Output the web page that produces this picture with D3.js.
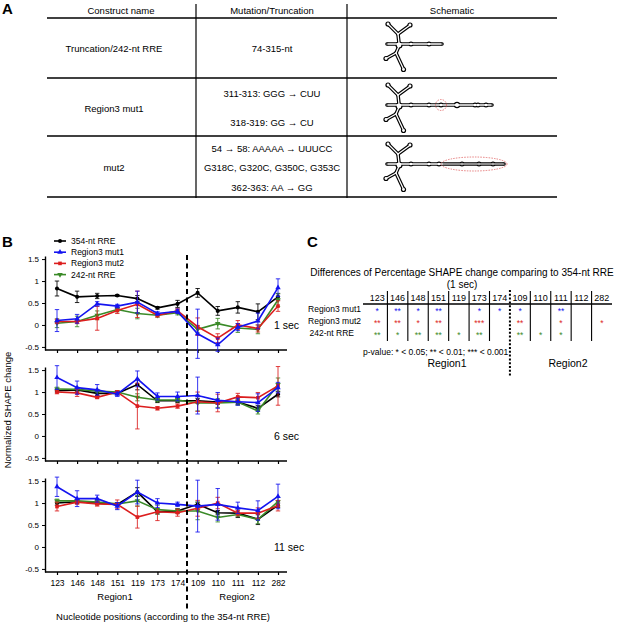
<!DOCTYPE html>
<html>
<head>
<meta charset="utf-8">
<script src="https://cdn.jsdelivr.net/npm/d3@7"></script>
<style>
body { margin: 0; background: #fff; }
svg { font-family: "Liberation Sans", Arial, sans-serif; }
</style>
</head>
<body>
<svg id="fig" width="617" height="624"></svg>
<script>
// ---- data ----
var constructNames = ["Truncation/242-nt RRE", "Region3 mut1", "mut2"];
var mutationLines = [
	["74-315-nt"],
	["311-313: GGG \u2192 CUU", "318-319: GG \u2192 CU"],
	["54 \u2192 58: AAAAA \u2192 UUUCC", "G318C, G320C, G350C, G353C", "362-363: AA \u2192 GG"]
];
// bulge offsets along the long stem of each schematic, and stem length
var stemLengths = [42, 92, 104];
var bulgeOffsets = [[12, 30], [12, 30, 42, 58, 76, 79, 87], [12, 30, 40, 63, 80, 94]];

var positions = ["123", "146", "148", "151", "119", "173", "174", "109", "110", "111", "112", "282"];
var seriesNames = ["354-nt RRE", "Region3 mut1", "Region3 mut2", "242-nt RRE"];
var timeLabels = ["1 sec", "6 sec", "11 sec"];

// 1 sec
var wt1 = [0.83, 0.64, 0.66, 0.67, 0.60, 0.39, 0.48, 0.73, 0.32, 0.40, 0.30, 0.64];
var wt1Err = [0.17, 0.13, 0.06, 0.02, 0.07, 0.03, 0.08, 0.10, 0.10, 0.13, 0.18, 0.07];
var mutA1 = [0.10, 0.14, 0.48, 0.43, 0.52, 0.26, 0.31, -0.20, -0.45, -0.05, 0.09, 0.85];
var mutA1Err = [0.25, 0.10, 0.05, 0.04, 0.25, 0.04, 0.05, 0.56, 0.15, 0.08, 0.18, 0.20];
var mutB1 = [0.08, 0.08, 0.15, 0.33, 0.47, 0.22, 0.32, -0.04, -0.30, 0.00, -0.08, 0.43];
var mutB1Err = [0.05, 0.05, 0.27, 0.07, 0.30, 0.04, 0.05, 0.20, 0.10, 0.10, 0.08, 0.12];
var trunc1 = [0.04, 0.08, 0.22, 0.35, 0.26, 0.22, 0.28, -0.10, 0.03, -0.07, -0.10, 0.57];
var trunc1Err = [0.10, 0.12, 0.10, 0.05, 0.12, 0.04, 0.05, 0.08, 0.12, 0.10, 0.10, 0.15];
// 6 sec
var wt6 = [1.03, 1.05, 0.97, 0.97, 1.17, 0.80, 0.80, 0.80, 0.77, 0.77, 0.63, 0.95];
var wt6Err = [0.03, 0.03, 0.05, 0.03, 0.12, 0.04, 0.04, 0.05, 0.05, 0.05, 0.06, 0.06];
var mutA6 = [1.33, 1.10, 1.05, 0.95, 1.30, 0.90, 0.90, 0.92, 0.81, 0.78, 0.76, 1.10];
var mutA6Err = [0.27, 0.15, 0.12, 0.05, 0.18, 0.08, 0.10, 0.42, 0.18, 0.08, 0.20, 0.12];
var mutB6 = [1.00, 0.98, 0.88, 1.00, 0.68, 0.63, 0.68, 0.78, 0.75, 0.89, 0.87, 1.14];
var mutB6Err = [0.04, 0.08, 0.03, 0.03, 0.52, 0.04, 0.05, 0.22, 0.20, 0.08, 0.12, 0.44];
var trunc6 = [1.07, 1.06, 1.02, 1.00, 0.88, 0.82, 0.82, 0.75, 0.75, 0.77, 0.57, 1.17];
var trunc6Err = [0.04, 0.05, 0.04, 0.03, 0.08, 0.04, 0.04, 0.18, 0.10, 0.07, 0.07, 0.15];
// 11 sec
var wt11 = [1.00, 1.03, 1.00, 0.97, 1.25, 0.80, 0.82, 0.97, 0.78, 0.77, 0.63, 0.95];
var wt11Err = [0.05, 0.04, 0.04, 0.03, 0.10, 0.05, 0.05, 0.05, 0.05, 0.10, 0.12, 0.05];
var mutA11 = [1.37, 1.10, 1.10, 0.93, 1.25, 1.00, 0.97, 0.93, 0.97, 0.89, 0.83, 1.15];
var mutA11Err = [0.22, 0.18, 0.08, 0.08, 0.27, 0.10, 0.05, 0.59, 0.36, 0.13, 0.22, 0.28];
var mutB11 = [0.92, 1.02, 0.98, 0.97, 0.68, 0.80, 0.78, 0.88, 1.00, 0.77, 0.77, 0.94];
var mutB11Err = [0.10, 0.05, 0.05, 0.10, 0.25, 0.20, 0.08, 0.18, 0.13, 0.06, 0.12, 0.12];
var trunc11 = [1.05, 1.05, 1.02, 0.98, 1.05, 0.85, 0.82, 0.82, 0.67, 0.74, 0.63, 1.03];
var trunc11Err = [0.04, 0.04, 0.04, 0.03, 0.12, 0.10, 0.05, 0.20, 0.10, 0.05, 0.10, 0.10];

var yTicks = [-0.5, 0, 0.5, 1, 1.5];

// significance stars, panel C (1 sec)
var starsMut1 = ["*", "**", "*", "**", "", "*", "*", "*", "", "**", "", ""];
var starsMut2 = ["**", "**", "*", "**", "", "***", "", "**", "", "*", "", "*"];
var stars242 = ["**", "*", "**", "**", "*", "**", "", "**", "*", "*", "", ""];

// ---- styles ----
var colors = ["#000000", "#1414f0", "#dc1e1e", "#3a8a28"];
var symbols = [d3.symbolCircle, d3.symbolTriangle, d3.symbolSquare, d3.symbolTriangle];
var symbolRot = [0, 0, 0, 180];

var svg = d3.select("#fig");

// ================= Panel A =================
function drawTable(){
	var g = svg.append("g");
	g.append("text").attr("x", 2).attr("y", 14).attr("font-size", "15px").attr("font-weight", "bold").text("A");
	var left = 47, right = 557, c1 = 196, c2 = 347;
	var hLines = [18, 78, 136, 197];
	hLines.forEach(function(y){
		g.append("line").attr("x1", left).attr("x2", right).attr("y1", y).attr("y2", y)
			.attr("stroke", "#000").attr("stroke-width", 1.6);
	});
	[c1, c2].forEach(function(x){
		g.append("line").attr("x1", x).attr("x2", x).attr("y1", 4).attr("y2", 198)
			.attr("stroke", "#000").attr("stroke-width", 1.2);
	});
	var headers = ["Construct name", "Mutation/Truncation", "Schematic"];
	var hx = [121, 272, 452];
	headers.forEach(function(h, i){
		g.append("text").attr("x", hx[i]).attr("y", 14).attr("text-anchor", "middle")
			.attr("font-size", "9.5px").text(h);
	});
	var rowMid = [48, 108, 167];
	var lineYs = [[48], [93, 122], [148, 167, 187]];
	constructNames.forEach(function(n, i){
		g.append("text").attr("x", 114).attr("y", rowMid[i] + 3.5).attr("text-anchor", "middle")
			.attr("font-size", "9.5px").text(n);
		mutationLines[i].forEach(function(t, j){
			g.append("text").attr("x", 272).attr("y", lineYs[i][j] + 3.5).attr("text-anchor", "middle")
				.attr("font-size", "9.5px").text(t);
		});
		drawSchematic(g, 399, [44, 105, 164][i], i);
	});
}

// RNA outline drawn as black thick stroke with a white core
function drawSchematic(g, cx, cy, idx){
	var s = g.append("g").attr("transform", "translate(" + cx + "," + cy + ")");
	var L = stemLengths[idx];
	var segs = [
		[[0, -1], [-1, -10]], [[-1, -10], [-10, -19]], [[-1, -10], [10, -18]],
		[[0, 0], [-11, 0]], [[0, 2], [-3, 9]], [[-3, 9], [-12, 14]], [[-3, 9], [4, 24]],
		[[0, 0], [L, 0]]
	];
	var loops = [[-11, -20, 2.6], [11, -19, 2.6], [-12, 0, 1.8], [-13, 14.5, 2.6], [4.5, 25.5, 2.6], [0, 1, 3.6], [L + 1, 0, 1.8]];
	bulgeOffsets[idx].forEach(function(b){ loops.push([b, 0, b == 58 ? 3.2 : 2.5]); });
	var line = d3.line();
	[["#000", 3.6, 0], ["#fff", 1.3, 1.2]].forEach(function(st, k){
		segs.forEach(function(sg){
			s.append("path").attr("d", line(sg)).attr("stroke", st[0]).attr("stroke-width", st[1])
				.attr("stroke-linecap", "round").attr("fill", "none");
		});
		loops.forEach(function(l){
			s.append("circle").attr("cx", l[0]).attr("cy", l[1]).attr("r", Math.max(l[2] - st[2], 0.6))
				.attr("fill", st[0]);
		});
	});
	if (idx == 1){
		s.append("circle").attr("cx", 42).attr("cy", 0).attr("r", 5.5).attr("fill", "none")
			.attr("stroke", "#e06060").attr("stroke-width", 0.8).attr("stroke-dasharray", "1.5,1.2");
	}
	if (idx == 2){
		s.append("line").attr("x1", 44).attr("x2", L).attr("y1", 0).attr("y2", 0)
			.attr("stroke", "#555").attr("stroke-width", 1.2);
		s.append("ellipse").attr("cx", 75).attr("cy", 0).attr("rx", 33).attr("ry", 7).attr("fill", "none")
			.attr("stroke", "#e06060").attr("stroke-width", 0.8).attr("stroke-dasharray", "1.5,1.2");
	}
}

// ================= Panel B =================
function drawLinePanels(){
	var g = svg.append("g");
	g.append("text").attr("x", 2).attr("y", 247).attr("font-size", "15px").attr("font-weight", "bold").text("B");
	var x = d3.scalePoint().domain(positions).range([57, 278]);
	var panelTops = [256, 367, 478];
	var panelH = 94;
	var data = [
		[[wt1, wt1Err], [mutA1, mutA1Err], [mutB1, mutB1Err], [trunc1, trunc1Err]],
		[[wt6, wt6Err], [mutA6, mutA6Err], [mutB6, mutB6Err], [trunc6, trunc6Err]],
		[[wt11, wt11Err], [mutA11, mutA11Err], [mutB11, mutB11Err], [trunc11, trunc11Err]]
	];
	var drawOrder = [0, 3, 2, 1];

	panelTops.forEach(function(top, p){
		var y = d3.scaleLinear().domain([-0.57, 1.57]).range([top + panelH, top]);
		var pg = g.append("g");
		var yAxis = pg.append("g").attr("transform", "translate(45,0)")
			.call(d3.axisLeft(y).tickValues(yTicks).tickSize(3).tickSizeOuter(0).tickFormat(function(d){ return String(d); }));
		yAxis.select(".domain").attr("stroke-width", 1.4);
		yAxis.selectAll("text").attr("font-size", "8px").attr("font-family", "Liberation Sans, Arial, sans-serif");
		var xAxis = pg.append("g").attr("transform", "translate(0," + (top + panelH) + ")")
			.call(d3.axisBottom(x).tickSize(3).tickFormat(p == 2 ? null : ""));
		xAxis.select(".domain").remove();
		xAxis.selectAll("text").attr("font-size", "8.5px").attr("dy", "0.9em").attr("font-family", "Liberation Sans, Arial, sans-serif");
		xAxis.selectAll("line").attr("stroke-width", 1.2);
		pg.append("line").attr("x1", 45).attr("x2", 287).attr("y1", top + panelH).attr("y2", top + panelH)
			.attr("stroke", "#000").attr("stroke-width", 1.4);

		drawOrder.forEach(function(si){
			var vals = data[p][si][0], errs = data[p][si][1];
			var pts = positions.map(function(pos, i){ return {pos: pos, v: vals[i], e: errs[i]}; });
			var c = colors[si];
			pts.forEach(function(d){
				var px = x(d.pos);
				pg.append("line").attr("x1", px).attr("x2", px).attr("y1", y(d.v - d.e)).attr("y2", y(d.v + d.e))
					.attr("stroke", c).attr("stroke-width", 1).attr("opacity", 0.85);
				[d.v - d.e, d.v + d.e].forEach(function(ev){
					pg.append("line").attr("x1", px - 2.2).attr("x2", px + 2.2).attr("y1", y(ev)).attr("y2", y(ev))
						.attr("stroke", c).attr("stroke-width", 1).attr("opacity", 0.85);
				});
			});
			pg.append("path").datum(pts)
				.attr("d", d3.line().x(function(d){ return x(d.pos); }).y(function(d){ return y(d.v); }))
				.attr("fill", "none").attr("stroke", c).attr("stroke-width", 1.6);
			pg.selectAll(null).data(pts).enter().append("path")
				.attr("d", d3.symbol().type(symbols[si]).size(13))
				.attr("transform", function(d){ return "translate(" + x(d.pos) + "," + y(d.v) + ") rotate(" + symbolRot[si] + ")"; })
				.attr("fill", c);
		});

		pg.append("text").attr("x", 274).attr("y", y(0) + 4).attr("font-size", "10.5px").text(timeLabels[p]);
	});

	// legend
	seriesNames.forEach(function(n, i){
		var ly = 241 + i * 11.2;
		g.append("line").attr("x1", 54).attr("x2", 66).attr("y1", ly).attr("y2", ly)
			.attr("stroke", colors[i]).attr("stroke-width", 1.6);
		g.append("path").attr("d", d3.symbol().type(symbols[i]).size(13))
			.attr("transform", "translate(60," + ly + ") rotate(" + symbolRot[i] + ")").attr("fill", colors[i]);
		g.append("text").attr("x", 71).attr("y", ly + 3).attr("font-size", "8.5px").text(n);
	});

	// region divider
	g.append("line").attr("x1", 187).attr("x2", 187).attr("y1", 255).attr("y2", 609)
		.attr("stroke", "#000").attr("stroke-width", 2).attr("stroke-dasharray", "5,3.5");

	g.append("text").attr("transform", "translate(11,410) rotate(-90)").attr("text-anchor", "middle")
		.attr("font-size", "9.5px").text("Normalized SHAPE change");
	g.append("text").attr("x", 115).attr("y", 600).attr("text-anchor", "middle").attr("font-size", "9.5px").text("Region1");
	g.append("text").attr("x", 237).attr("y", 600).attr("text-anchor", "middle").attr("font-size", "9.5px").text("Region2");
	g.append("text").attr("x", 163).attr("y", 620).attr("text-anchor", "middle").attr("font-size", "9.5px")
		.text("Nucleotide positions (according to the 354-nt RRE)");
}

// ================= Panel C =================
function drawStarTable(){
	var g = svg.append("g");
	g.append("text").attr("x", 307).attr("y", 247).attr("font-size", "15px").attr("font-weight", "bold").text("C");
	g.append("text").attr("x", 462).attr("y", 276).attr("text-anchor", "middle").attr("font-size", "10px")
		.text("Differences of Percentage SHAPE change comparing to 354-nt RRE");
	g.append("text").attr("x", 462).attr("y", 288).attr("text-anchor", "middle").attr("font-size", "10px").text("(1 sec)");

	var col = d3.scaleBand().domain(positions).range([367, 612]);
	g.selectAll(null).data(positions).enter().append("text")
		.attr("x", function(d){ return col(d) + col.bandwidth() / 2; }).attr("y", 301)
		.attr("text-anchor", "middle").attr("font-size", "9px").text(function(d){ return d; });
	g.append("line").attr("x1", 363).attr("x2", 612).attr("y1", 304).attr("y2", 304)
		.attr("stroke", "#000").attr("stroke-width", 1.5);
	positions.slice(1).forEach(function(p, i){
		var bx = col(p);
		if (p == "109") return;
		g.append("line").attr("x1", bx).attr("x2", bx).attr("y1", 291).attr("y2", 341)
			.attr("stroke", "#000").attr("stroke-width", 1.1);
	});
	g.append("line").attr("x1", col("109")).attr("x2", col("109")).attr("y1", 290).attr("y2", 376)
		.attr("stroke", "#000").attr("stroke-width", 2).attr("stroke-dasharray", "2,1.8");

	var rows = [["Region3 mut1", starsMut1, colors[1]], ["Region3 mut2", starsMut2, colors[2]], ["242-nt RRE", stars242, colors[3]]];
	rows.forEach(function(r, i){
		var ry = 309 + i * 12;
		g.append("text").attr("x", i == 2 ? 354 : 361).attr("y", ry + 3).attr("text-anchor", "end")
			.attr("font-size", "8.5px").text(r[0]);
		r[1].forEach(function(st, j){
			if (!st) return;
			g.append("text").attr("x", col(positions[j]) + col.bandwidth() / 2).attr("y", ry + 5)
				.attr("text-anchor", "middle").attr("font-size", "8.5px").attr("fill", r[2]).text(st);
		});
	});
	g.append("text").attr("x", 363).attr("y", 355).attr("font-size", "8.5px")
		.text("p-value: * < 0.05; ** < 0.01; *** < 0.001");
	g.append("text").attr("x", 447).attr("y", 367).attr("text-anchor", "middle").attr("font-size", "10.5px").text("Region1");
	g.append("text").attr("x", 568).attr("y", 367).attr("text-anchor", "middle").attr("font-size", "10.5px").text("Region2");
}

drawTable();
drawLinePanels();
drawStarTable();
</script>
</body>
</html>
